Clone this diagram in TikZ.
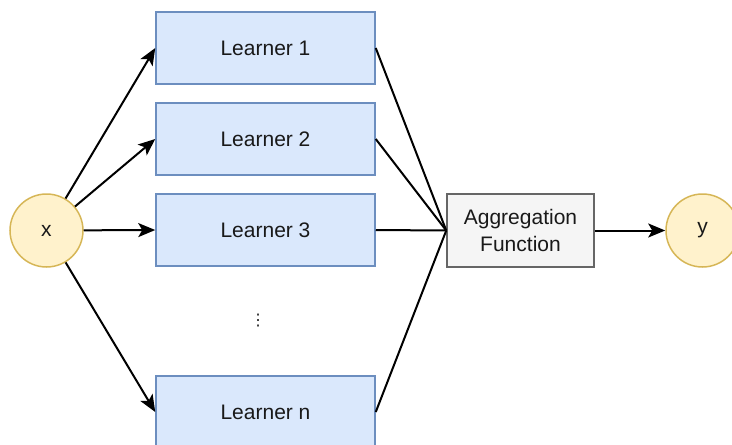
\documentclass[tikz,border=0pt]{standalone}
\usepackage{fontspec}
\setmainfont{Liberation Sans}
\newfontfamily\symfont{DejaVu Sans}
\usetikzlibrary{arrows.meta}
\definecolor{learnfill}{HTML}{DAE8FC}
\definecolor{learnline}{HTML}{6C8EBF}
\definecolor{iofill}{HTML}{FFF2CC}
\definecolor{ioline}{HTML}{D6B656}
\definecolor{aggfill}{HTML}{F5F5F5}
\definecolor{aggline}{HTML}{666666}
\tikzset{
  lbl/.style={font=\fontsize{21}{27}\selectfont, text=black!90},
  learner/.style={lbl, draw=learnline, fill=learnfill, line width=1.5pt,
    minimum width=219pt, minimum height=72pt, inner sep=0pt},
  io/.style={lbl, circle, draw=ioline, fill=iofill, line width=1.5pt,
    minimum size=73pt, inner sep=0pt},
  agg/.style={lbl, draw=aggline, fill=aggfill, line width=1.5pt,
    minimum width=147pt, minimum height=73pt, inner sep=0pt, align=center},
  feed/.style={line width=2pt, -{Stealth[length=17pt,width=14pt,inset=4pt]}},
  merge/.style={line width=2pt}
}
\begin{document}
\begin{tikzpicture}[x=1pt, y=-1pt]
  \useasboundingbox (0,0) rectangle (732,445);
  % inputs, base learners and output
  \node[io] (x) at (46.5,230.5) {x};
  \node[learner] (l1) at (265.5,48) {Learner 1};
  \node[learner] (l2) at (265.5,139) {Learner 2};
  \node[learner] (l3) at (265.5,230) {Learner 3};
  \node[learner] (ln) at (265.5,412) {Learner n};
  \node[lbl, font=\symfont\fontsize{16}{16}\selectfont] (dots) at (258,321) {⋮};
  \node[agg] (agg) at (520.5,230.5) {Aggregation\\Function};
  \node[io] (y) at (702.5,230.5) {y};
  % input fans out to every learner
  \draw[feed] (x) -- (l1.west);
  \draw[feed] (x) -- (l2.west);
  \draw[feed] (x) -- (l3.west);
  \draw[feed] (x) -- (ln.west);
  % learners merge into the aggregation step
  \draw[merge] (l1.east) -- (agg.west);
  \draw[merge] (l2.east) -- (agg.west);
  \draw[merge] (l3.east) -- (agg.west);
  \draw[merge] (ln.east) -- (agg.west);
  \draw[feed] (agg) -- (y);
\end{tikzpicture}
\end{document}
